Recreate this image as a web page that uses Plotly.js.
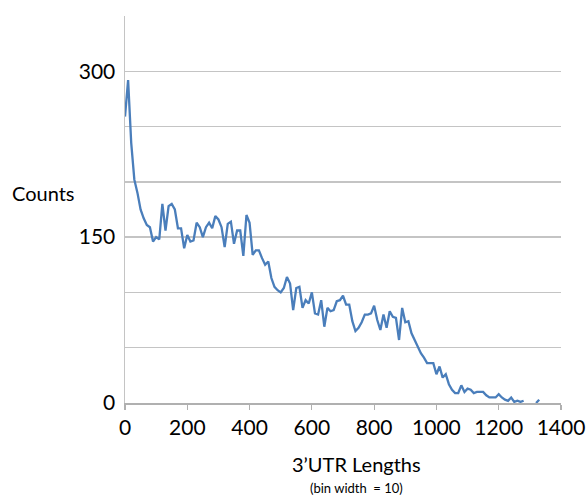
<!DOCTYPE html>
<html>
<head>
<meta charset="utf-8">
<script src="https://cdn.plot.ly/plotly-3.0.1.min.js"></script>
<style>html,body{margin:0;padding:0;background:#fff;}#chart{width:588px;height:495px;}</style>
</head>
<body>
<div id="chart"></div>
<script>
// 3'UTR length bins (bin width = 10)
const binStarts = [];
for (let i = 0; i <= 133; i++) binStarts.push(i * 10);

const counts = [
  259, 292, 235, 202, 190, 175, 167, 161, 159, 146,
  150, 148, 180, 156, 178, 180, 175, 158, 158, 140,
  152, 146, 147, 163, 159, 150, 159, 163, 158, 169,
  166, 159, 141, 162, 164, 144, 156, 156, 133, 170,
  163, 134, 138, 138, 131, 125, 128, 113, 105, 102,
  100, 104, 114, 108, 84, 104, 105, 86, 93, 90,
  100, 81, 80, 93, 69, 86, 83, 84, 92, 93,
  97, 89, 89, 74, 65, 68, 73, 80, 80, 81,
  88, 75, 66, 80, 68, 83, 78, 77, 57, 86,
  73, 74, 63, 57, 51, 45, 41, 36, 36, 36,
  26, 33, 23, 26, 17, 12, 9, 9, 16, 10,
  13, 12, 9, 10, 10, 10, 7, 5, 5, 5,
  8, 5, 3, 2, 5, 1, 2, 1, 2, null,
  null, null, 0, 3
];

const yTickVals = [0, 50, 100, 150, 200, 250, 300, 350];
const yTickText = ['0', '', '', '150', '', '', '300', ''];
const xTickVals = [0, 200, 400, 600, 800, 1000, 1200, 1400];

const FONT = 'Lato, "Open Sans", sans-serif';

const trace = {
  x: binStarts,
  y: counts,
  type: 'scatter',
  mode: 'lines',
  line: {color: '#4a7ebb', width: 2.3},
  connectgaps: false,
  hoverinfo: 'x+y'
};

const layout = {
  width: 588,
  height: 495,
  margin: {l: 125, r: 27, t: 16, b: 92},
  paper_bgcolor: '#ffffff',
  plot_bgcolor: '#ffffff',
  showlegend: false,
  font: {family: FONT, color: '#000000', size: 21},
  xaxis: {
    range: [0, 1400],
    tickvals: xTickVals,
    ticktext: xTickVals.map(String),
    showgrid: false,
    zeroline: false,
    showline: true,
    linecolor: '#b0b0b0',
    linewidth: 1.5,
    ticks: 'outside',
    ticklen: 5,
    tickwidth: 1.2,
    tickcolor: '#b0b0b0',
    ticklabelstandoff: 0,
    tickfont: {family: FONT, size: 21, color: '#000'},
    fixedrange: true
  },
  yaxis: {
    range: [0, 350],
    tickvals: yTickVals,
    ticktext: yTickText,
    showgrid: true,
    gridcolor: '#c4c4c4',
    gridwidth: 1.5,
    zeroline: false,
    showline: true,
    linecolor: '#c4c4c4',
    linewidth: 1.5,
    ticks: '',
    ticklabelstandoff: 4,
    tickfont: {family: FONT, size: 21, color: '#000'},
    fixedrange: true
  },
  annotations: [
    {text: 'Counts', xref: 'paper', yref: 'paper', x: -0.186, y: 0.543,
     xanchor: 'center', yanchor: 'middle', showarrow: false,
     font: {family: FONT, size: 20, color: '#000'}},
    {text: '3\u2019UTR Lengths', xref: 'paper', yref: 'paper', x: 0.53, y: -0.158,
     xanchor: 'center', yanchor: 'middle', showarrow: false,
     font: {family: FONT, size: 20, color: '#000'}},
    {text: '(bin width  = 10)', xref: 'paper', yref: 'paper', x: 0.53, y: -0.22,
     xanchor: 'center', yanchor: 'middle', showarrow: false,
     font: {family: FONT, size: 13, color: '#000'}}
  ]
};

Plotly.newPlot('chart', [trace], layout, {displayModeBar: false, staticPlot: true});
</script>
</body>
</html>
